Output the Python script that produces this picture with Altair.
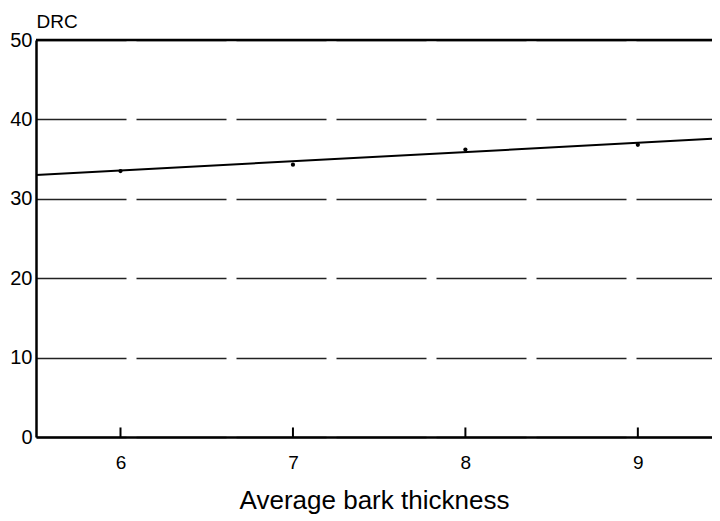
import altair as alt
import pandas as pd

# data
point_x = [6.0, 7.0, 8.0, 9.0]
point_y = [33.5, 34.3, 36.2, 36.8]
fit_x = [5.51, 9.43]
fit_y = [33.0, 37.55]
x_ticks = [6, 7, 8, 9]
y_ticks = [0, 10, 20, 30, 40, 50]
x_domain = [5.51, 9.43]
y_domain = [0, 50]

pts = pd.DataFrame({"x": point_x, "y": point_y})
fit = pd.DataFrame({"x": fit_x, "y": fit_y})
ticks = pd.DataFrame({"x": x_ticks, "y0": [0] * len(x_ticks), "y1": [1.2] * len(x_ticks)})

FONT = "Liberation Sans"

xs = alt.Scale(domain=x_domain, nice=False, zero=False)
ys = alt.Scale(domain=y_domain, nice=False)

xaxis = alt.Axis(values=x_ticks, format="d", ticks=False, grid=False, labelFontSize=19,
                 labelPadding=16, labelFont=FONT, labelColor="black",
                 domainColor="black", domainWidth=2.5,
                 title="Average bark thickness", titleFont=FONT,
                 titleFontSize=26, titleFontWeight="normal", titleColor="black",
                 titleBaseline="alphabetic", titleY=71)
yaxis = alt.Axis(values=y_ticks, format="d", ticks=False, grid=True, gridColor="#222222",
                 gridDash=[90, 10], gridWidth=1.3,
                 labelFontSize=20, labelPadding=4, labelFont=FONT,
                 labelColor="black", domainColor="black", domainWidth=2.5,
                 title="DRC", titleAngle=0, titleAlign="left", titleX=0,
                 titleY=-13, titleBaseline="alphabetic", titleFont=FONT,
                 titleFontSize=19, titleFontWeight="normal", titleColor="black")

base_line = alt.Chart(fit).mark_line(color="black", strokeWidth=2).encode(
    x=alt.X("x:Q", scale=xs, axis=xaxis),
    y=alt.Y("y:Q", scale=ys, axis=yaxis),
)

dots = alt.Chart(pts).mark_circle(color="black", size=18, opacity=1).encode(
    x=alt.X("x:Q", scale=xs),
    y=alt.Y("y:Q", scale=ys),
)

tick_rules = alt.Chart(ticks).mark_rule(color="black", strokeWidth=2).encode(
    x=alt.X("x:Q", scale=xs),
    y=alt.Y("y0:Q", scale=ys),
    y2="y1:Q",
)

top_rule = alt.Chart(pd.DataFrame({"y": [50]})).mark_rule(color="black", strokeWidth=2.5).encode(
    y=alt.Y("y:Q", scale=ys),
)

chart = alt.layer(base_line, dots, tick_rules, top_rule).properties(
    width=676, height=397,
    autosize=alt.AutoSizeParams(type="none"),
    padding={"left": 28, "top": 32, "right": 0, "bottom": 82},
).configure_view(stroke=None).configure(background="white")

chart.save("out.html", embed_options={"renderer": "svg", "actions": False})
